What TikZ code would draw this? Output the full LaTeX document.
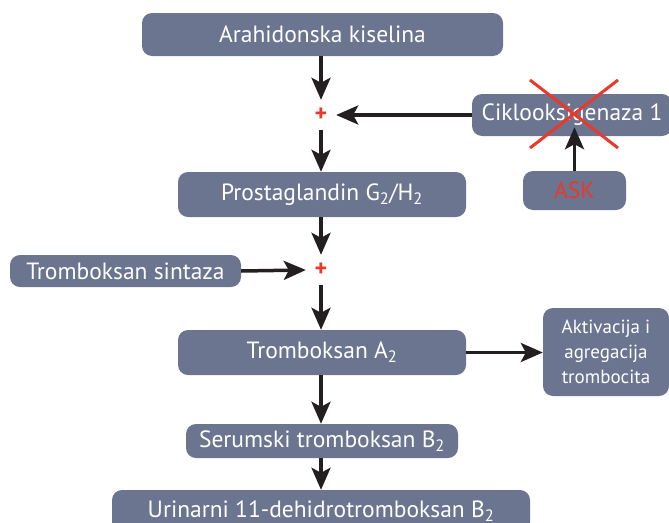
\documentclass[tikz,border=0pt]{standalone}
\usepackage{fontspec}
\setmainfont{PT Sans}
\usetikzlibrary{arrows.meta}

\definecolor{boxgray}{HTML}{6B7590}
\definecolor{inkred}{HTML}{E8392B}
\definecolor{ink}{HTML}{231F20}

\begin{document}
\begin{tikzpicture}
  [x=1pt, y=-1pt,
   box/.style = {rectangle, rounded corners=10pt, fill=boxgray, text=white,
                 font=\fontsize{23.5}{26}\selectfont, inner sep=0pt},
   plus/.style = {circle, minimum size=30pt, inner sep=0pt, text=inkred,
                  font=\fontsize{24}{24}\selectfont\bfseries},
   flow/.style = {ink, line width=3.5pt,
                  -{Stealth[length=22pt, width=19pt, inset=5pt]}}]

\clip (0,0) rectangle (669,522);
\useasboundingbox (0,0) rectangle (669,522);

% Boxes
\node[box, minimum width=361pt, minimum height=43pt] (ara) at (322.5,34.5) {Arahidonska kiselina};
\node[box, minimum width=200pt, minimum height=42pt] (cox) at (572,115) {Ciklooksigenaza 1};
\node[box, minimum width=103pt, minimum height=39pt, text=inkred] (ask) at (574.5,190.5) {ASK};
\node[box, minimum width=288pt, minimum height=45pt] (pgh) at (322,194.5) {Prostaglandin G\textsubscript{2}/H\textsubscript{2}};
\node[box, minimum width=231pt, minimum height=32pt] (txs) at (125.5,271) {Tromboksan sintaza};
\node[box, minimum width=288pt, minimum height=45pt] (txa) at (322,352.5) {Tromboksan A\textsubscript{2}};
\node[box, minimum width=126pt, minimum height=88pt, align=center,
      font=\fontsize{19}{25}\selectfont] (akt) at (606,352) {Aktivacija i\\agregacija\\trombocita};
\node[box, minimum width=272pt, minimum height=34pt] (txb) at (322,441) {Serumski tromboksan B\textsubscript{2}};
\node[box, minimum width=418pt, minimum height=42pt] (dtx) at (321,511) {Urinarni 11-dehidrotromboksan B\textsubscript{2}};

% Plus signs
\node[plus] (plusA) at (321,115) {+};
\node[plus] (plusB) at (321,270) {+};

% Arrows
\draw[flow] (ara.south -| plusA) -- (plusA.north);
\draw[flow] (cox.west) -- (plusA.east);
\draw[flow] (plusA.south) -- (pgh.north -| plusA);
\draw[flow, shorten >=-9pt] (ask.north) -- (ask.north |- cox.south);
\draw[flow] (pgh.south -| plusB) -- (plusB.north);
\draw[flow] (txs.east) -- (plusB.west);
\draw[flow] (plusB.south) -- (txa.north -| plusB);
\draw[flow] (txa.east) -- (akt.west |- txa);
\draw[flow] (txa.south -| plusB) -- (txb.north -| plusB);
\draw[flow] (txb.south -| plusB) -- (dtx.north -| plusB);

% Cross over the enzyme
\draw[inkred, line width=3pt] (530,80) -- (618,148);
\draw[inkred, line width=3pt] (618,80) -- (530,148);

\end{tikzpicture}
\end{document}
